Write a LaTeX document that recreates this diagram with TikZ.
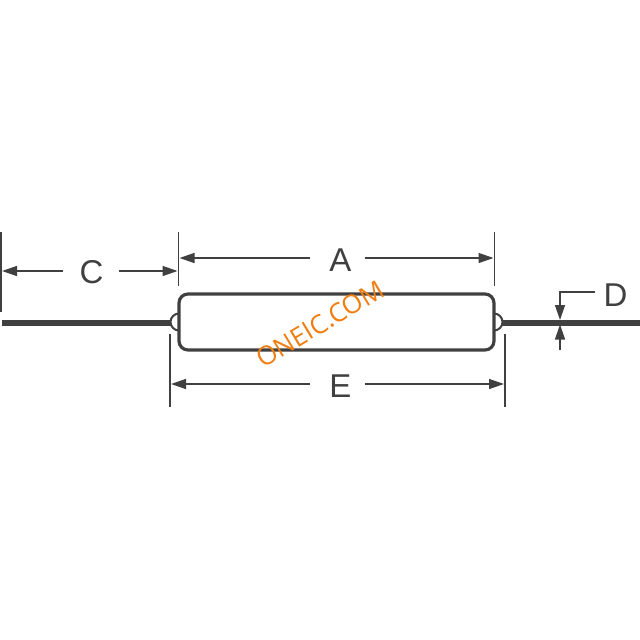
\documentclass[tikz,border=0pt]{standalone}
\usepackage{fontspec}
\setmainfont{Liberation Sans}
\newfontfamily\markfont{Open Sans}
\usepackage{xcolor}
\usetikzlibrary{arrows.meta, positioning}
\definecolor{inkgrey}{HTML}{404040}
\definecolor{markorange}{HTML}{F07D0F}
\tikzset{
    dimline/.style={draw=inkgrey, line width=1.4pt, -{Triangle[length=15pt, width=10pt]}},
    extline/.style={draw=inkgrey, line width=1.4pt},
    lead/.style={draw=inkgrey, line width=6pt},
    dimlabel/.style={text=inkgrey, font=\fontsize{33}{33}\selectfont, inner sep=0pt}
}
\begin{document}
\begin{tikzpicture}[x=1pt, y=-1pt]
    \useasboundingbox (0, 0) rectangle (640, 640);

    % Body of the part
    \node[draw=inkgrey, line width=3.2pt, rounded corners=9pt, minimum width=315pt, minimum height=56pt, inner sep=0pt] (body) at (336.5, 322) {};

    % Small bulges on both ends
    \draw[inkgrey, line width=2pt] (179, 330.5) arc (90:270:8.5);
    \draw[inkgrey, line width=2pt] (494, 330.5) arc (90:-90:8.5);

    % Leads
    \coordinate (leadL) at (2, 322.5);
    \coordinate (leadLend) at (171, 322.5);
    \coordinate (leadR) at (502, 322.5);
    \coordinate (leadRend) at (640, 322.5);
    \draw[lead] (leadL) -- (leadLend);
    \draw[lead] (leadR) -- (leadRend);

    % Extension lines
    \coordinate (extC1) at (1, 232);
    \coordinate (extC2) at (1, 312);
    \coordinate (extA1) at (178.5, 232);
    \coordinate (extA2) at (178.5, 286);
    \coordinate (extB1) at (494.5, 232);
    \coordinate (extB2) at (494.5, 286);
    \coordinate (extE1) at (170, 334);
    \coordinate (extE2) at (170, 407);
    \coordinate (extF1) at (505, 334);
    \coordinate (extF2) at (505, 407);
    \draw[extline, line width=2pt] (extC1) -- (extC2);
    \draw[extline] (extA1) -- (extA2);
    \draw[extline] (extB1) -- (extB2);
    \draw[extline] (extE1) -- (extE2);
    \draw[extline] (extF1) -- (extF2);

    % Dimension A
    \node[dimlabel] (labelA) at (340.5, 260) {A};
    \coordinate (tipA1) at (179.5, 258);
    \coordinate (tipA2) at (493.5, 258);
    \draw[dimline] (labelA.west) ++(-19, -2) -- (tipA1);
    \draw[dimline] (labelA.east) ++(13, -2) -- (tipA2);

    % Dimension C
    \node[dimlabel] (labelC) at (91.5, 272) {C};
    \coordinate (tipC1) at (2, 271);
    \coordinate (tipC2) at (177.5, 271);
    \draw[dimline] (labelC.west) ++(-16, -1) -- (tipC1);
    \draw[dimline] (labelC.east) ++(15, -1) -- (tipC2);

    % Dimension E
    \node[dimlabel] (labelE) at (340.5, 386) {E};
    \coordinate (tipE1) at (171, 384);
    \coordinate (tipE2) at (504, 384);
    \draw[dimline] (labelE.west) ++(-19, -2) -- (tipE1);
    \draw[dimline] (labelE.east) ++(13, -2) -- (tipE2);

    % Dimension D
    \node[dimlabel] (labelD) at (615.5, 295) {D};
    \coordinate (tipD1) at (560, 320);
    \coordinate (tipD2) at (560, 324.5);
    \coordinate (tailD) at (560, 350);
    \draw[dimline] (labelD.west) ++(-8, -3) -| (tipD1);
    \draw[dimline] (tailD) -- (tipD2);

    % Watermark
    \node[text=markorange, font=\markfont\fontsize{26}{26}\selectfont, rotate=31, inner sep=0pt] (mark) at (320, 324) {ONEIC.COM};
\end{tikzpicture}
\end{document}
